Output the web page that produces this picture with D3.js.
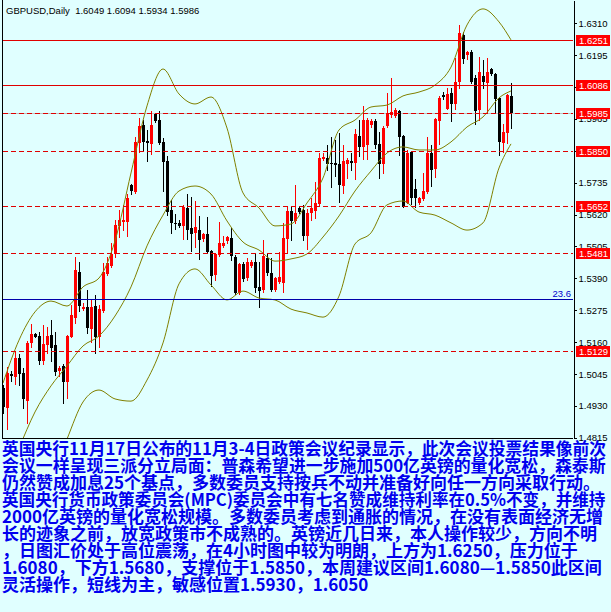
<!DOCTYPE html>
<html><head><meta charset="utf-8">
<script src="https://cdn.jsdelivr.net/npm/d3@7"></script>
<style>
html,body{margin:0;padding:0;background:#E0FFFF;}
svg{display:block;}
</style></head><body>
<svg id="c" width="611" height="612"></svg>
<script>
// ---- data ----
const opens = [1.4993,1.4924,1.5046,1.5033,1.5104,1.5047,1.4949,1.5158,1.5188,1.5182,1.5093,1.5151,1.5186,1.5150,1.5057,1.5074,1.5017,1.5180,1.5248,1.5414,1.5281,1.5288,1.5207,1.5290,1.5180,1.5273,1.5406,1.5436,1.5477,1.5579,1.5594,1.5594,1.5727,1.5703,1.5879,1.5943,1.5885,1.5873,1.5983,1.5961,1.5883,1.5813,1.5637,1.5591,1.5588,1.5579,1.5645,1.5570,1.5552,1.5564,1.5532,1.5550,1.5489,1.5402,1.5474,1.5508,1.5526,1.5537,1.5468,1.5336,1.5441,1.5390,1.5436,1.5448,1.5360,1.5348,1.5462,1.5408,1.5348,1.5376,1.5374,1.5531,1.5633,1.5597,1.5643,1.5637,1.5543,1.5624,1.5634,1.5658,1.5819,1.5823,1.5806,1.5806,1.5801,1.5724,1.5802,1.5812,1.5807,1.5903,1.5865,1.5871,1.5942,1.5959,1.5873,1.5802,1.5940,1.5979,1.5976,1.5995,1.5903,1.5663,1.5847,1.5711,1.5661,1.5675,1.5703,1.5841,1.5783,1.5959,1.6050,1.6001,1.6060,1.6019,1.6098,1.6268,1.6194,1.6208,1.6114,1.5997,1.6121,1.6096,1.6144,1.6126,1.6039,1.5879,1.5913,1.6049];
const highs = [1.5005,1.5071,1.5056,1.5126,1.5117,1.5065,1.5165,1.5225,1.5192,1.5198,1.5222,1.5216,1.5240,1.5198,1.5075,1.5081,1.5186,1.5294,1.5468,1.5448,1.5300,1.5348,1.5314,1.5330,1.5294,1.5444,1.5468,1.5516,1.5600,1.5637,1.5655,1.5694,1.5729,1.5901,1.5967,1.5961,1.5925,1.5995,1.5988,1.5994,1.5897,1.5831,1.5673,1.5622,1.5600,1.5655,1.5694,1.5685,1.5670,1.5615,1.5552,1.5612,1.5492,1.5480,1.5594,1.5543,1.5544,1.5570,1.5474,1.5447,1.5450,1.5462,1.5456,1.5480,1.5448,1.5528,1.5477,1.5462,1.5396,1.5484,1.5588,1.5649,1.5649,1.5727,1.5649,1.5655,1.5639,1.5679,1.5739,1.5841,1.5843,1.5871,1.5901,1.5889,1.5913,1.5871,1.5825,1.5841,1.5928,1.5961,1.6012,1.5967,1.5964,1.5964,1.5919,1.5940,1.6060,1.6112,1.6003,1.5997,1.5907,1.5853,1.5847,1.5747,1.5685,1.5769,1.5899,1.5871,1.5967,1.6048,1.6063,1.6075,1.6075,1.6184,1.6304,1.6280,1.6209,1.6214,1.6124,1.6187,1.6178,1.6186,1.6150,1.6130,1.6045,1.5947,1.6055,1.6094];
const lows = [1.4905,1.4846,1.5021,1.5009,1.5005,1.4921,1.4867,1.5144,1.5177,1.5081,1.5081,1.5119,1.5092,1.5041,1.5039,1.4941,1.4957,1.5177,1.5230,1.5272,1.5276,1.5194,1.5159,1.5119,1.5144,1.5270,1.5402,1.5432,1.5468,1.5540,1.5564,1.5544,1.5693,1.5699,1.5847,1.5849,1.5814,1.5837,1.5955,1.5875,1.5706,1.5618,1.5555,1.5567,1.5576,1.5531,1.5531,1.5490,1.5504,1.5459,1.5526,1.5480,1.5364,1.5384,1.5471,1.5504,1.5516,1.5456,1.5334,1.5332,1.5382,1.5384,1.5432,1.5342,1.5288,1.5342,1.5402,1.5346,1.5346,1.5372,1.5342,1.5480,1.5528,1.5591,1.5624,1.5528,1.5495,1.5600,1.5607,1.5655,1.5817,1.5781,1.5721,1.5759,1.5667,1.5699,1.5751,1.5781,1.5747,1.5831,1.5819,1.5819,1.5937,1.5859,1.5751,1.5769,1.5935,1.5973,1.5971,1.5835,1.5646,1.5661,1.5658,1.5649,1.5657,1.5673,1.5699,1.5723,1.5757,1.5875,1.6036,1.6000,1.5959,1.6000,1.6075,1.6166,1.6180,1.6093,1.5947,1.5961,1.6075,1.5988,1.6122,1.5985,1.5835,1.5847,1.5879,1.5934];
const closes = [1.4927,1.5047,1.5038,1.5104,1.5045,1.4954,1.5156,1.5189,1.5180,1.5093,1.5153,1.5183,1.5140,1.5053,1.5068,1.5017,1.5182,1.5258,1.5420,1.5290,1.5288,1.5210,1.5288,1.5180,1.5279,1.5413,1.5444,1.5478,1.5582,1.5600,1.5599,1.5679,1.5705,1.5883,1.5940,1.5883,1.5877,1.5943,1.5959,1.5879,1.5811,1.5631,1.5588,1.5586,1.5580,1.5649,1.5564,1.5550,1.5574,1.5528,1.5550,1.5486,1.5398,1.5478,1.5519,1.5519,1.5538,1.5471,1.5336,1.5442,1.5388,1.5448,1.5448,1.5356,1.5346,1.5472,1.5410,1.5348,1.5392,1.5394,1.5534,1.5633,1.5598,1.5624,1.5631,1.5543,1.5627,1.5643,1.5661,1.5823,1.5829,1.5802,1.5801,1.5800,1.5727,1.5813,1.5817,1.5805,1.5911,1.5865,1.5961,1.5961,1.5958,1.5871,1.5802,1.5934,1.5985,1.5991,1.5997,1.5899,1.5649,1.5843,1.5679,1.5679,1.5679,1.5706,1.5841,1.5781,1.5965,1.6042,1.6043,1.6055,1.6019,1.6098,1.6274,1.6180,1.6206,1.6099,1.5995,1.6133,1.6097,1.6133,1.6126,1.6036,1.5883,1.5917,1.6050,1.5986];

const bandIdx = [0,4,8,12,16,20,24,28,32,36,40,44,48,52,56,60,64,68,72,76,80,84,88,92,96,100,104,108,112,116,120,124,127];
const upperBand = [1.5012,1.5167,1.5269,1.5308,1.5290,1.5359,1.5391,1.5525,1.5770,1.6012,1.6145,1.6055,1.6019,1.6044,1.5932,1.5698,1.5644,1.5579,1.5586,1.5662,1.5752,1.5925,1.5961,1.6008,1.6015,1.6048,1.6062,1.6087,1.6152,1.6304,1.6362,1.6315,1.6250];
const midBand = [1.4644,1.4778,1.4908,1.5002,1.5074,1.5146,1.5182,1.5254,1.5359,1.5507,1.5618,1.5705,1.5723,1.5694,1.5597,1.5521,1.5492,1.5452,1.5460,1.5478,1.5539,1.5615,1.5705,1.5777,1.5842,1.5864,1.5853,1.5853,1.5882,1.5936,1.5972,1.6041,1.6066];
const lowerBand = [1.4374,1.4446,1.4536,1.4662,1.4810,1.4944,1.4987,1.4955,1.4947,1.5023,1.5157,1.5370,1.5424,1.5366,1.5312,1.5344,1.5319,1.5312,1.5279,1.5265,1.5250,1.5326,1.5514,1.5554,1.5655,1.5669,1.5629,1.5618,1.5590,1.5564,1.5590,1.5788,1.5875];

const tickLabels = [1.6310,1.6195,1.6080,1.5965,1.5850,1.5735,1.5620,1.5505,1.5390,1.5275,1.5160,1.5045,1.4930,1.4815];
const solidLevels = [1.6251,1.6086];
const dashedLevels = [1.5985,1.5850,1.5652,1.5481,1.5129];
const fibLevel = 1.5314;
const fibLabel = "23.6";
const bidPrice = 1.5986;
const titleText = "GBPUSD,Daily  1.6049 1.6094 1.5934 1.5986";
const noteLines = [
 "英国央行11月17日公布的11月3-4日政策会议纪录显示，此次会议投票结果像前次",
 "会议一样呈现三派分立局面：普森希望进一步施加500亿英镑的量化宽松，森泰斯",
 "仍然赞成加息25个基点，多数委员支持按兵不动并准备好向任一方向采取行动。",
 "英国央行货币政策委员会(MPC)委员会中有七名赞成维持利率在0.5%不变，并维持",
 "2000亿英镑的量化宽松规模。多数委员考虑到通胀的情况，在没有表面经济无增",
 "长的迹象之前，放宽政策市不成熟的。英镑近几日来，本人操作较少，方向不明",
 "，日图汇价处于高位震荡，在4小时图中较为明朗，上方为1.6250，压力位于",
 "1.6080，下方1.5680，支撑位于1.5850，本周建议区间1.6080—1.5850此区间",
 "灵活操作，短线为主，敏感位置1.5930，1.6050"
];

// ---- drawing ----
const W = 611, H = 612;
const plotL = 2, plotR = 573, plotB = 438;
const svg = d3.select("#c");
svg.append("rect").attr("width", W).attr("height", H).attr("fill", "#E0FFFF");

const ys = d3.scaleLinear().domain([1.4814, 1.6394]).range([plotB, 0]);
const xs = d3.scaleLinear().domain([0, closes.length - 1]).range([3, 511]);

svg.append("clipPath").attr("id", "pc").append("rect")
  .attr("x", plotL).attr("y", 0).attr("width", plotR - plotL).attr("height", plotB);
const plot = svg.append("g").attr("clip-path", "url(#pc)");

const lvlY = v => Math.round(ys(v)) + 0.5;

// bid line
plot.append("line").attr("x1", plotL).attr("x2", plotR)
  .attr("y1", lvlY(bidPrice)).attr("y2", lvlY(bidPrice))
  .attr("stroke", "#C0C0C0").attr("stroke-width", 1);

// candles
const bars = d3.range(closes.length).map(i => ({i, o: opens[i], h: highs[i], l: lows[i], c: closes[i]}));
const cg = plot.append("g").attr("shape-rendering", "crispEdges");
bars.forEach(d => {
  const col = d.c >= d.o ? "#FF0000" : "#000000";
  const cx = Math.round(xs(d.i));
  cg.append("line").attr("x1", cx + 0.5).attr("x2", cx + 0.5)
    .attr("y1", Math.round(ys(d.h))).attr("y2", Math.round(ys(d.l)) + 1)
    .attr("stroke", col).attr("stroke-width", 1);
  const top = Math.round(ys(Math.max(d.o, d.c)));
  const bot = Math.round(ys(Math.min(d.o, d.c)));
  cg.append("rect").attr("x", cx - 1).attr("y", top)
    .attr("width", 3).attr("height", Math.max(1, bot - top))
    .attr("fill", col);
});

// bollinger bands
const bandLine = d3.line().x(d => xs(d[0])).y(d => ys(d[1])).curve(d3.curveMonotoneX);
[upperBand, midBand, lowerBand].forEach(arr => {
  plot.append("path").datum(bandIdx.map((k, j) => [k, arr[j]]))
    .attr("d", bandLine).attr("fill", "none")
    .attr("stroke", "#808000").attr("stroke-width", 1);
});

// horizontal levels
const lg = plot.append("g").attr("shape-rendering", "crispEdges");
solidLevels.forEach(v => lg.append("line").attr("x1", 3).attr("x2", plotR)
  .attr("y1", lvlY(v)).attr("y2", lvlY(v)).attr("stroke", "#E00000").attr("stroke-width", 1));
dashedLevels.forEach(v => lg.append("line").attr("x1", 3).attr("x2", plotR)
  .attr("y1", lvlY(v)).attr("y2", lvlY(v)).attr("stroke", "#E00000").attr("stroke-width", 1)
  .attr("stroke-dasharray", "5,3"));
lg.append("line").attr("x1", 3).attr("x2", plotR)
  .attr("y1", lvlY(fibLevel)).attr("y2", lvlY(fibLevel)).attr("stroke", "#0000AA").attr("stroke-width", 1);
svg.append("text").attr("x", 571).attr("y", lvlY(fibLevel) - 3)
  .attr("text-anchor", "end").attr("fill", "#0000CC")
  .style("font", "9.5px 'Liberation Sans', Arial, sans-serif").text(fibLabel);

// frame
const fg = svg.append("g").attr("shape-rendering", "crispEdges");
fg.append("line").attr("x1", plotL + 0.5).attr("x2", plotL + 0.5).attr("y1", 0).attr("y2", plotB + 1).attr("stroke", "#000");
fg.append("line").attr("x1", plotL).attr("x2", plotR).attr("y1", plotB + 0.5).attr("y2", plotB + 0.5).attr("stroke", "#000");

// right axis
const axis = d3.axisRight(ys).tickValues(tickLabels).tickSize(3).tickSizeOuter(0)
  .tickFormat(d3.format(".4f"));
const ag = svg.append("g").attr("transform", `translate(${plotR + 0.5},0)`).call(axis);
ag.select(".domain").attr("stroke", "#000").attr("shape-rendering", "crispEdges");
ag.selectAll(".tick line").attr("stroke", "#000").attr("shape-rendering", "crispEdges");
ag.selectAll(".tick text").attr("x", 5).attr("fill", "#000")
  .style("font", "9.5px 'Liberation Sans', Arial, sans-serif");

// price labels
const allLevels = solidLevels.concat(dashedLevels);
allLevels.forEach(v => {
  const y = lvlY(v);
  svg.append("rect").attr("x", 576).attr("y", Math.round(y - 5.5)).attr("width", 34).attr("height", 11)
    .attr("fill", "#FF0000").attr("shape-rendering", "crispEdges");
  svg.append("text").attr("x", 579).attr("y", Math.round(y - 5.5) + 9)
    .attr("fill", "#FFFFFF").style("font", "9.5px 'Liberation Sans', Arial, sans-serif")
    .text(d3.format(".4f")(v));
});

// title
svg.append("text").attr("x", 6).attr("y", 14).attr("fill", "#000")
  .attr("xml:space", "preserve").style("white-space", "pre")
  .style("font", "9.5px 'Liberation Sans', Arial, sans-serif").text(titleText);

// commentary
const tg = svg.append("g");
noteLines.forEach((s, k) => {
  const t = tg.append("text").attr("x", 2).attr("y", 455 + 17 * k)
    .attr("fill", "#0000EE")
    .style("font-family", "'Noto Sans CJK SC', sans-serif")
    .style("font-size", "17px").style("font-weight", "bold")
    .text(s);
  const len = t.node().getComputedTextLength();
  if (len > 604) t.style("font-size", (17 * 604 / len).toFixed(2) + "px");
});
</script>
</body></html>
